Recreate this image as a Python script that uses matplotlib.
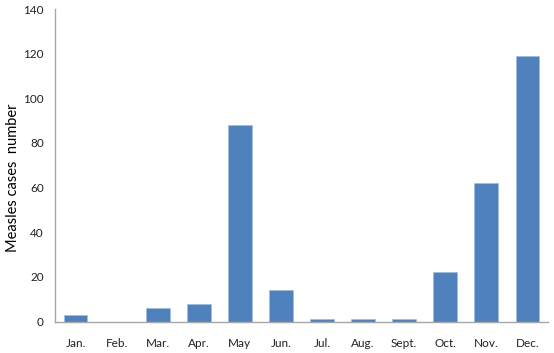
import matplotlib
matplotlib.use("Agg")
import matplotlib.pyplot as plt

months = ["Jan.", "Feb.", "Mar.", "Apr.", "May", "Jun.", "Jul.", "Aug.",
          "Sept.", "Oct.", "Nov.", "Dec."]
cases = [3, 0, 6, 8, 88, 14, 1, 1, 1, 22, 62, 119]
yticks = [0, 20, 40, 60, 80, 100, 120, 140]

plt.rcParams["font.family"] = ["Lato", "DejaVu Sans"]

fig = plt.figure(figsize=(5.54, 3.53), dpi=100)
ax = fig.add_axes([55 / 554, 1 - 321.5 / 353, 493 / 554, 312.5 / 353])

ax.bar(range(len(months)), cases, width=0.58, color="#4F81BD",
       edgecolor="#9DBCE0", linewidth=0.4)

ax.set_xlim(-0.5, len(months) - 0.5)
ax.set_ylim(0, 140)
ax.set_yticks(yticks)
ax.set_xticks(range(len(months)))
ax.set_xticklabels(months)
ax.tick_params(axis="both", length=0, labelsize=8.5, colors="#222222")
ax.tick_params(axis="x", pad=12)
ax.tick_params(axis="y", pad=8)

for side in ("top", "right"):
    ax.spines[side].set_visible(False)
for side in ("left", "bottom"):
    ax.spines[side].set_color("#A6A6A6")
    ax.spines[side].set_linewidth(1.0)

ax.set_ylabel("Measles cases  number", fontsize=10.5)
ax.yaxis.set_label_coords(-0.072, 0.46)

fig.savefig("out.png", dpi=100)
